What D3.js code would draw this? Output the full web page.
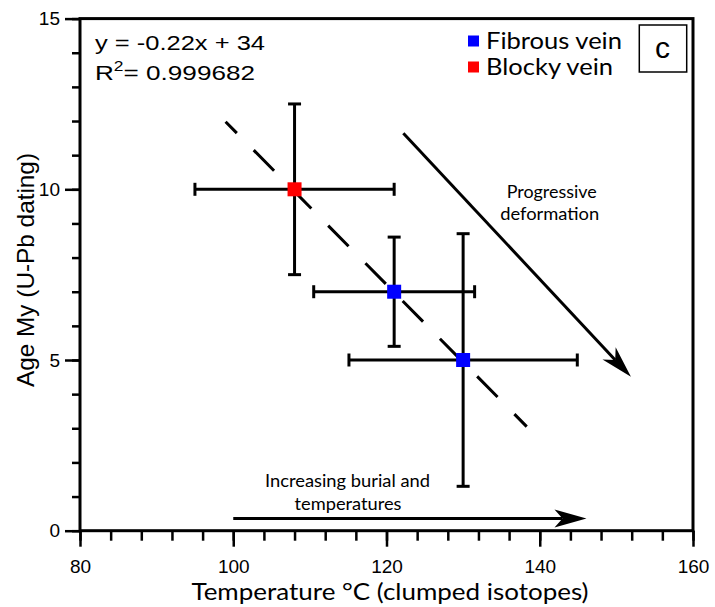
<!DOCTYPE html>
<html>
<head>
<meta charset="utf-8">
<script src="https://cdn.jsdelivr.net/npm/d3@7"></script>
<style>
  body { margin: 0; background: #fff; }
  svg { display: block; }
  .myriad { font-family: Lato, "Open Sans", sans-serif; fill: #000; }
  .helv { font-family: "Liberation Sans", Arial, sans-serif; fill: #000; }
</style>
</head>
<body>
<div id="chart"></div>
<script>
// data
const kinds = ["Fibrous vein", "Fibrous vein", "Blocky vein"]
const temps = [121, 130, 108]
const ages = [7, 5, 10]
const tempLow = [110.5, 115.1, 95]
const tempHigh = [131.5, 144.9, 121]
const ageLow = [5.4, 1.3, 7.5]
const ageHigh = [8.6, 8.7, 12.5]

const legendNames = ["Fibrous vein", "Blocky vein"]
const legendColors = ["#0000ff", "#ff0000"]

// regression line as drawn, and the two annotation arrows
const fitLine = [[99.0, 11.98], [138.3, 3.05]]
const progArrow = [[122.2, 11.64], [151.9, 4.51]]
const burialArrow = [[100, 0.36], [146.1, 0.36]]

const xMajor = [80, 100, 120, 140, 160]
const xMinor = d3.range(80, 161, 4)
const yMajor = [0, 5, 10, 15]
const yMinor = d3.range(0, 16, 1)

const width = 715
const height = 607

const svg = d3.select('#chart').append('svg').attr('width', width).attr('height', height)

const x = d3.scaleLinear().domain([80, 160]).range([80, 693])
const y = d3.scaleLinear().domain([0, 15]).range([530.7, 18.6])
const color = d3.scaleOrdinal().domain(legendNames).range(legendColors)

// axes: minor ticks first, then long major ticks with labels
const xAxisGroup = svg.append('g').attr('transform', `translate(0, ${y(0)})`)
xAxisGroup.append('g').call(d3.axisBottom(x).tickValues(xMinor).tickSize(10).tickFormat(''))
xAxisGroup.append('g').call(d3.axisBottom(x).tickValues(xMajor).tickSize(16).tickPadding(13).tickFormat(d3.format('d')))
const yAxisGroup = svg.append('g').attr('transform', `translate(${x(80)}, 0)`)
yAxisGroup.append('g').call(d3.axisLeft(y).tickValues(yMinor).tickSize(8).tickFormat(''))
yAxisGroup.append('g').call(d3.axisLeft(y).tickValues(yMajor).tickSize(15).tickPadding(5).tickFormat(d3.format('d')))
svg.selectAll('.domain').remove()
svg.selectAll('.tick line').attr('stroke', '#000').attr('stroke-width', 2.5)
svg.selectAll('.tick text').attr('font-family', '"Liberation Sans", Arial, sans-serif')
  .attr('font-size', 19).attr('fill', '#000')

// frame
svg.append('rect')
  .attr('x', x(80)).attr('y', y(15))
  .attr('width', x(160) - x(80)).attr('height', y(0) - y(15))
  .attr('fill', 'none').attr('stroke', '#000').attr('stroke-width', 3)

// axis titles
svg.append('text').attr('class', 'myriad')
  .attr('x', 390).attr('y', 600).attr('text-anchor', 'middle')
  .attr('font-size', 24).attr('textLength', 397).attr('lengthAdjust', 'spacingAndGlyphs')
  .text('Temperature °C (clumped isotopes)')
svg.append('text').attr('class', 'helv')
  .attr('transform', 'translate(34, 270) rotate(-90)')
  .attr('text-anchor', 'middle').attr('font-size', 24)
  .attr('textLength', 234).attr('lengthAdjust', 'spacingAndGlyphs')
  .text('Age My (U-Pb dating)')

// regression line (dashed)
svg.append('path')
  .attr('d', d3.line().x(d => x(d[0])).y(d => y(d[1]))(fitLine))
  .attr('fill', 'none').attr('stroke', '#000').attr('stroke-width', 3)
  .attr('stroke-dasharray', '29 24').attr('stroke-dashoffset', 13)

// error bars
const pts = temps.map((t, i) => ({ t, a: ages[i], kind: kinds[i], tl: tempLow[i], th: tempHigh[i], al: ageLow[i], ah: ageHigh[i] }))
const cap = 6.5
const bars = svg.append('g').attr('stroke', '#000').attr('stroke-width', 3).attr('fill', 'none')
pts.forEach(d => {
  bars.append('line').attr('x1', x(d.tl)).attr('x2', x(d.th)).attr('y1', y(d.a)).attr('y2', y(d.a))
  bars.append('line').attr('x1', x(d.tl)).attr('x2', x(d.tl)).attr('y1', y(d.a) - cap).attr('y2', y(d.a) + cap)
  bars.append('line').attr('x1', x(d.th)).attr('x2', x(d.th)).attr('y1', y(d.a) - cap).attr('y2', y(d.a) + cap)
  bars.append('line').attr('x1', x(d.t)).attr('x2', x(d.t)).attr('y1', y(d.al)).attr('y2', y(d.ah))
  bars.append('line').attr('x1', x(d.t) - cap).attr('x2', x(d.t) + cap).attr('y1', y(d.al)).attr('y2', y(d.al))
  bars.append('line').attr('x1', x(d.t) - cap).attr('x2', x(d.t) + cap).attr('y1', y(d.ah)).attr('y2', y(d.ah))
})

// square markers
const sq = 14
svg.selectAll('rect.pt').data(pts).enter().append('rect')
  .attr('class', 'pt')
  .attr('x', d => x(d.t) - sq / 2).attr('y', d => y(d.a) - sq / 2)
  .attr('width', sq).attr('height', sq)
  .attr('fill', d => color(d.kind))

// arrows with a notched head
function arrow(pair, headLen, headHalf, notch) {
  const x1 = x(pair[0][0]), y1 = y(pair[0][1]), x2 = x(pair[1][0]), y2 = y(pair[1][1])
  const ang = Math.atan2(y2 - y1, x2 - x1)
  const c = Math.cos(ang), s = Math.sin(ang)
  const pt = (u, v) => [x2 + u * c - v * s, y2 + u * s + v * c]
  const back = pt(-notch, 0)
  svg.append('line').attr('x1', x1).attr('y1', y1).attr('x2', back[0]).attr('y2', back[1])
    .attr('stroke', '#000').attr('stroke-width', 3)
  svg.append('path')
    .attr('d', 'M' + [pt(0, 0), pt(-headLen, -headHalf), pt(-notch, 0), pt(-headLen, headHalf)].map(p => p.join(',')).join('L') + 'Z')
    .attr('fill', '#000')
}
arrow(progArrow, 32, 9, 23)
arrow(burialArrow, 32, 9, 24)

// annotations
svg.append('text').attr('class', 'myriad').attr('text-anchor', 'middle').attr('font-size', 17)
  .attr('x', 551.7).attr('y', 197.7).attr('textLength', 90).attr('lengthAdjust', 'spacingAndGlyphs').text('Progressive')
svg.append('text').attr('class', 'myriad').attr('text-anchor', 'middle').attr('font-size', 17)
  .attr('x', 549.7).attr('y', 220).attr('textLength', 99).attr('lengthAdjust', 'spacingAndGlyphs').text('deformation')
svg.append('text').attr('class', 'myriad').attr('text-anchor', 'middle').attr('font-size', 17)
  .attr('x', 347.5).attr('y', 486.7).attr('textLength', 165).attr('lengthAdjust', 'spacingAndGlyphs').text('Increasing burial and')
svg.append('text').attr('class', 'myriad').attr('text-anchor', 'middle').attr('font-size', 17)
  .attr('x', 348).attr('y', 510).attr('textLength', 107).attr('lengthAdjust', 'spacingAndGlyphs').text('temperatures')

// equation
svg.append('text').attr('class', 'helv').attr('font-size', 21)
  .attr('x', 95).attr('y', 50).attr('textLength', 170).attr('lengthAdjust', 'spacingAndGlyphs')
  .text('y = -0.22x + 34')
const r2 = svg.append('text').attr('class', 'helv').attr('font-size', 21).attr('x', 95).attr('y', 80)
  .attr('textLength', 160).attr('lengthAdjust', 'spacingAndGlyphs')
r2.append('tspan').text('R')
r2.append('tspan').attr('font-size', 14).attr('dy', -9).text('2')
r2.append('tspan').attr('dy', 9).text('= 0.999682')

// legend
const legendY = [49, 75]
const legendTextW = [136, 127]
legendNames.forEach((name, i) => {
  svg.append('rect').attr('x', 468).attr('y', legendY[i] - 13.5).attr('width', 11).attr('height', 11)
    .attr('fill', legendColors[i])
  svg.append('text').attr('class', 'myriad').attr('font-size', 23)
    .attr('x', 486).attr('y', legendY[i]).attr('textLength', legendTextW[i]).attr('lengthAdjust', 'spacingAndGlyphs')
    .text(name)
})

// panel letter
svg.append('rect').attr('x', 639.3).attr('y', 25).attr('width', 47.4).attr('height', 47)
  .attr('fill', '#fff').attr('stroke', '#000').attr('stroke-width', 1.5)
svg.append('text').attr('class', 'helv').attr('font-size', 30).attr('text-anchor', 'middle')
  .attr('x', 662.5).attr('y', 58).text('c')
</script>
</body>
</html>
